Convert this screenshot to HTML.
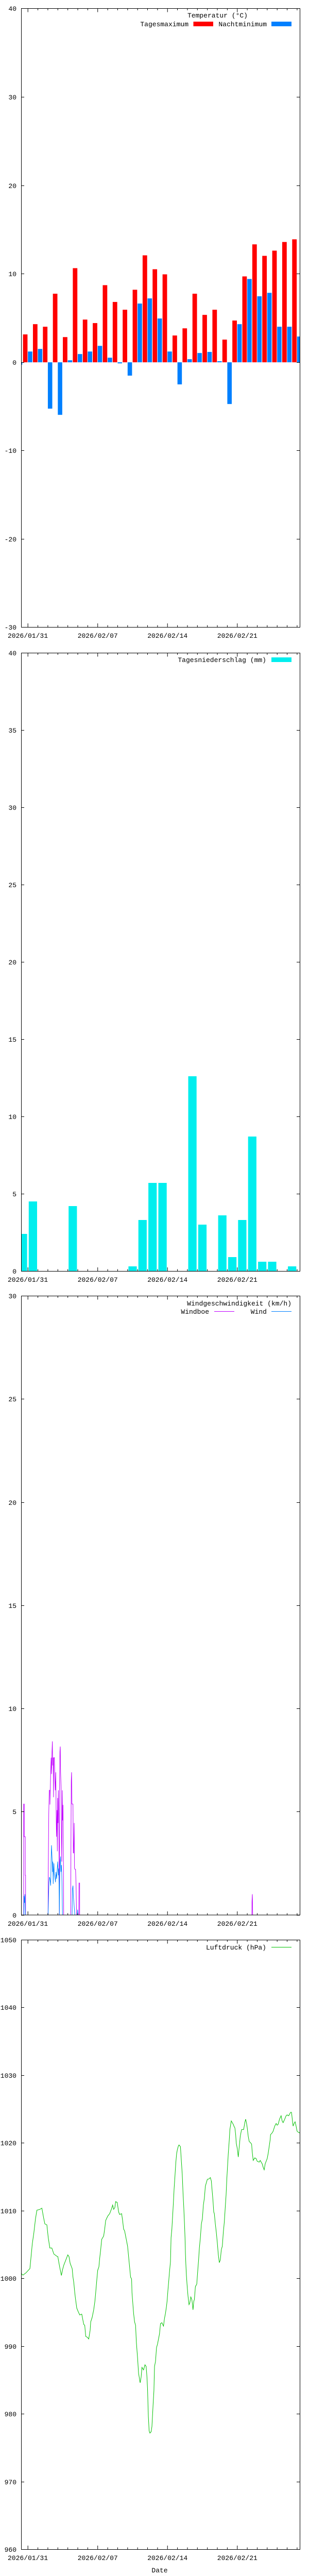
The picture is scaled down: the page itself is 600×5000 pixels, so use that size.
<!DOCTYPE html>
<html><head><meta charset="utf-8"><style>
html,body{margin:0;padding:0;background:#fff;}
svg{display:block;}
text{font-family:"Liberation Mono",monospace;font-size:13px;fill:#000;}
</style></head><body>
<svg width="600" height="5000" viewBox="0 0 600 5000" xmlns="http://www.w3.org/2000/svg">
<defs>
<g id="xtb" stroke="#000" stroke-width="1">
<path d="M54.2 0v-7M73.56 0v-3.5M92.92 0v-3.5M112.28 0v-3.5M131.64 0v-3.5M151 0v-3.5M170.36 0v-3.5M189.72 0v-7M209.08 0v-3.5M228.44 0v-3.5M247.8 0v-3.5M267.16 0v-3.5M286.52 0v-3.5M305.88 0v-3.5M325.24 0v-7M344.6 0v-3.5M363.96 0v-3.5M383.32 0v-3.5M402.68 0v-3.5M422.04 0v-3.5M441.4 0v-3.5M460.76 0v-7M480.12 0v-3.5M499.48 0v-3.5M518.84 0v-3.5M538.2 0v-3.5M557.56 0v-3.5M576.92 0v-3.5"/>
</g>
<g id="xtt" stroke="#000" stroke-width="1">
<path d="M54.2 0v7M73.56 0v3.5M92.92 0v3.5M112.28 0v3.5M131.64 0v3.5M151 0v3.5M170.36 0v3.5M189.72 0v7M209.08 0v3.5M228.44 0v3.5M247.8 0v3.5M267.16 0v3.5M286.52 0v3.5M305.88 0v3.5M325.24 0v7M344.6 0v3.5M363.96 0v3.5M383.32 0v3.5M402.68 0v3.5M422.04 0v3.5M441.4 0v3.5M460.76 0v7M480.12 0v3.5M499.48 0v3.5M518.84 0v3.5M538.2 0v3.5M557.56 0v3.5M576.92 0v3.5"/>
</g>
</defs>

<!-- ============ TEMPERATURE ============ -->
<g fill="#ff0000">
<rect x="44.6" y="649.1" width="8.8" height="54.1"/>
<rect x="63.96" y="629.2" width="8.8" height="74"/>
<rect x="83.32" y="634.2" width="8.8" height="69"/>
<rect x="102.68" y="570.1" width="8.8" height="133.1"/>
<rect x="122.04" y="654.3" width="8.8" height="48.9"/>
<rect x="141.4" y="520.5" width="8.8" height="182.7"/>
<rect x="160.76" y="620.3" width="8.8" height="82.9"/>
<rect x="180.12" y="627.1" width="8.8" height="76.1"/>
<rect x="199.48" y="553.5" width="8.8" height="149.7"/>
<rect x="218.84" y="586.1" width="8.8" height="117.1"/>
<rect x="238.2" y="601.2" width="8.8" height="102"/>
<rect x="257.56" y="562.4" width="8.8" height="140.8"/>
<rect x="276.92" y="495.6" width="8.8" height="207.6"/>
<rect x="296.28" y="522.6" width="8.8" height="180.6"/>
<rect x="315.64" y="532.5" width="8.8" height="170.7"/>
<rect x="335" y="651.2" width="8.8" height="52"/>
<rect x="354.36" y="637.3" width="8.8" height="65.9"/>
<rect x="373.72" y="570.1" width="8.8" height="133.1"/>
<rect x="393.08" y="611.2" width="8.8" height="92"/>
<rect x="412.44" y="601.2" width="8.8" height="102"/>
<rect x="431.8" y="659.2" width="8.8" height="44"/>
<rect x="451.16" y="622.2" width="8.8" height="81"/>
<rect x="470.52" y="536.5" width="8.8" height="166.7"/>
<rect x="489.88" y="474.3" width="8.8" height="228.9"/>
<rect x="509.24" y="496.6" width="8.8" height="206.6"/>
<rect x="528.6" y="486.5" width="8.8" height="216.7"/>
<rect x="547.96" y="469.7" width="8.8" height="233.5"/>
<rect x="567.32" y="464.5" width="8.8" height="238.7"/>
</g>
<g fill="#0080ff">
<rect x="41" y="703.2" width="2.3" height="4.6"/>
<rect x="54.2" y="682.3" width="8.6" height="20.9"/>
<rect x="73.56" y="677.3" width="8.6" height="25.9"/>
<rect x="92.92" y="703.2" width="8.6" height="90"/>
<rect x="112.28" y="703.2" width="8.6" height="102"/>
<rect x="131.64" y="699.3" width="8.6" height="3.9"/>
<rect x="151" y="687.2" width="8.6" height="16"/>
<rect x="170.36" y="682.3" width="8.6" height="20.9"/>
<rect x="189.72" y="671.3" width="8.6" height="31.9"/>
<rect x="209.08" y="694.3" width="8.6" height="8.9"/>
<rect x="228.44" y="703.2" width="8.6" height="2.1"/>
<rect x="247.8" y="703.2" width="8.6" height="25.9"/>
<rect x="267.16" y="589.2" width="8.6" height="114"/>
<rect x="286.52" y="579.2" width="8.6" height="124"/>
<rect x="305.88" y="618.2" width="8.6" height="85"/>
<rect x="325.24" y="682.3" width="8.6" height="20.9"/>
<rect x="344.6" y="703.2" width="8.6" height="42.9"/>
<rect x="363.96" y="697.2" width="8.6" height="6"/>
<rect x="383.32" y="685.2" width="8.6" height="18"/>
<rect x="402.68" y="683.1" width="8.6" height="20.1"/>
<rect x="422.04" y="701.1" width="8.6" height="2.1"/>
<rect x="441.4" y="703.2" width="8.6" height="81"/>
<rect x="460.76" y="629.2" width="8.6" height="74"/>
<rect x="480.12" y="541.5" width="8.6" height="161.7"/>
<rect x="499.48" y="575.1" width="8.6" height="128.1"/>
<rect x="518.84" y="568.4" width="8.6" height="134.8"/>
<rect x="538.2" y="634.2" width="8.6" height="69"/>
<rect x="557.56" y="634.2" width="8.6" height="69"/>
<rect x="576.92" y="653.2" width="5.1" height="50"/>
</g>
<rect x="41.5" y="16.5" width="541" height="1201" fill="none" stroke="#000"/>
<use href="#xtb" transform="translate(0,1217)"/>
<use href="#xtt" transform="translate(0,16.5)"/>
<path stroke="#000" d="M41 16.5h6M576 16.5h6M41 188.5h6M576 188.5h6M41 360.5h6M576 360.5h6M41 531.5h6M576 531.5h6M41 703.5h6M576 703.5h6M41 874.5h6M576 874.5h6M41 1046.5h6M576 1046.5h6M41 1217.5h6M576 1217.5h6"/>
<g text-anchor="end">
<text x="32" y="21">40</text><text x="32" y="193">30</text><text x="32" y="365">20</text><text x="32" y="536">10</text>
<text x="32" y="708">0</text><text x="32" y="879">-10</text><text x="32" y="1051">-20</text><text x="32" y="1222">-30</text>
<text x="481" y="34">Temperatur (°C)</text>
<text x="366" y="51">Tagesmaximum</text>
<text x="518" y="51">Nachtminimum</text>
</g>
<rect x="375.5" y="42" width="38.5" height="9" fill="#ff0000"/>
<rect x="527" y="42" width="39" height="9" fill="#0080ff"/>
<g text-anchor="middle">
<text x="54" y="1238">2026/01/31</text><text x="189.7" y="1238">2026/02/07</text><text x="325.2" y="1238">2026/02/14</text><text x="460.8" y="1238">2026/02/21</text>
</g>

<!-- ============ PRECIPITATION ============ -->
<g fill="#00eeee">
<rect x="41" y="2395" width="11.6" height="72"/>
<rect x="55.8" y="2332" width="16.2" height="135"/>
<rect x="133.2" y="2341" width="16.2" height="126"/>
<rect x="249.4" y="2458" width="16.2" height="9"/>
<rect x="268.7" y="2368" width="16.2" height="99"/>
<rect x="288.1" y="2296" width="16.2" height="171"/>
<rect x="307.5" y="2296" width="16.2" height="171"/>
<rect x="365.5" y="2089" width="16.2" height="378"/>
<rect x="384.9" y="2377" width="16.2" height="90"/>
<rect x="423.6" y="2359" width="16.2" height="108"/>
<rect x="443" y="2440" width="16.2" height="27"/>
<rect x="462.3" y="2368" width="16.2" height="99"/>
<rect x="481.7" y="2206" width="16.2" height="261"/>
<rect x="501.1" y="2449" width="16.2" height="18"/>
<rect x="520.4" y="2449" width="16.2" height="18"/>
<rect x="559.1" y="2458" width="16.2" height="9"/>
</g>
<rect x="41.5" y="1267.5" width="541" height="1200" fill="none" stroke="#000"/>
<use href="#xtb" transform="translate(0,2467)"/>
<use href="#xtt" transform="translate(0,1267.5)"/>
<path stroke="#000" d="M41 1267.5h6M576 1267.5h6M41 1417.5h6M576 1417.5h6M41 1567.5h6M576 1567.5h6M41 1717.5h6M576 1717.5h6M41 1867.5h6M576 1867.5h6M41 2017.5h6M576 2017.5h6M41 2167.5h6M576 2167.5h6M41 2317.5h6M576 2317.5h6M41 2467.5h6M576 2467.5h6"/>
<g text-anchor="end">
<text x="32" y="1272">40</text><text x="32" y="1422">35</text><text x="32" y="1572">30</text><text x="32" y="1722">25</text><text x="32" y="1872">20</text>
<text x="32" y="2022">15</text><text x="32" y="2172">10</text><text x="32" y="2322">5</text><text x="32" y="2472">0</text>
<text x="517" y="1285">Tagesniederschlag (mm)</text>
</g>
<rect x="527" y="1276" width="39" height="9" fill="#00eeee"/>
<g text-anchor="middle">
<text x="54" y="2488">2026/01/31</text><text x="189.7" y="2488">2026/02/07</text><text x="325.2" y="2488">2026/02/14</text><text x="460.8" y="2488">2026/02/21</text>
</g>

<!-- ============ WIND ============ -->
<g transform="translate(0,3400) scale(0.33333)" fill="none" stroke-width="1" vector-effect="non-scaling-stroke">
<polyline vector-effect="non-scaling-stroke" stroke="#c000ff" points="123,951 138,951 138,305 141,305 141,495 147,495 147,720 149,720 149,951 280,951 281,720 284,360 287,225 291,225 291,308 295,130 298,35 300,130 303,0 305,-60 307,80 309,35 311,170 312,265 313,35 317,35 318,80 320,170 322,225 325,120 327,360 329,495 332,340 334,580 336,270 338,415 340,225 342,410 344,600 346,951 347,200 349,0 351,-30 353,120 356,215 358,495 360,640 363,225 365,400 367,310 369,580 371,951 412,951 413,590 415,170 417,120 419,305 425,305 427,590 429,590 432,415 434,680 437,685 440,685 443,770 446,951 459,951 460,765 464,765 464,951 1467,951 1468,870 1470,830 1472,951"/>
<polyline vector-effect="non-scaling-stroke" stroke="#0080ff" points="123,951 139,951 140,840 143,880 145,830 148,951 280,951 285,760 288,730 291,740 295,780 298,620 300,545 302,590 304,630 306,700 308,640 310,770 312,690 314,650 316,710 318,720 320,730 323,760 326,700 330,740 333,690 336,640 338,680 340,720 342,680 344,770 346,951 348,720 350,640 353,610 355,700 358,660 361,760 364,951 420,951 422,800 425,780 428,850 432,900 436,951 450,951 452,920 454,951"/>
</g>
<rect x="41.5" y="2515.5" width="541" height="1201.5" fill="none" stroke="#000"/>
<use href="#xtb" transform="translate(0,3717)"/>
<use href="#xtt" transform="translate(0,2515.5)"/>
<path stroke="#000" d="M41 2515.5h6M576 2515.5h6M41 2715.5h6M576 2715.5h6M41 2916.5h6M576 2916.5h6M41 3116.5h6M576 3116.5h6M41 3316.5h6M576 3316.5h6M41 3516.5h6M576 3516.5h6M41 3717.5h6M576 3717.5h6"/>
<g text-anchor="end">
<text x="32" y="2520">30</text><text x="32" y="2720">25</text><text x="32" y="2921">20</text><text x="32" y="3121">15</text>
<text x="32" y="3321">10</text><text x="32" y="3521">5</text><text x="32" y="3722">0</text>
<text x="566" y="2534">Windgeschwindigkeit (km/h)</text>
<text x="406" y="2550">Windboe</text>
<text x="518" y="2550">Wind</text>
</g>
<path d="M416 2545.5h39" stroke="#c000ff"/>
<path d="M527 2545.5h39" stroke="#0080ff"/>
<g text-anchor="middle">
<text x="54" y="3738">2026/01/31</text><text x="189.7" y="3738">2026/02/07</text><text x="325.2" y="3738">2026/02/14</text><text x="460.8" y="3738">2026/02/21</text>
</g>

<!-- ============ PRESSURE ============ -->
<g transform="translate(0,4100) scale(0.38714,0.33333)">
<polyline vector-effect="non-scaling-stroke" fill="none" stroke="#00c000" stroke-width="1" points="106,938 115,948 130,935 150,910 155,850 162,765 170,700 178,620 185,570 200,565 210,558 218,610 225,650 235,655 242,730 250,790 260,790 270,825 285,838 290,840 296,880 300,905 308,950 314,915 320,890 330,860 340,830 346,840 352,880 362,910 366,960 370,990 375,1050 378,1080 385,1140 392,1160 400,1180 410,1175 420,1235 425,1240 430,1305 438,1310 445,1320 452,1270 455,1220 462,1195 470,1150 476,1100 480,1050 486,970 490,920 496,900 500,850 505,800 510,740 515,730 520,720 525,680 530,630 540,605 550,590 555,575 560,560 565,540 570,565 576,555 580,520 588,525 595,580 600,595 610,590 615,630 620,680 625,690 630,720 635,750 640,780 645,840 650,900 655,960 660,970 662,1050 666,1110 670,1170 675,1220 680,1240 684,1340 690,1430 695,1520 703,1575 708,1540 712,1485 720,1500 727,1470 733,1480 737,1540 740,1610 744,1770 748,1855 752,1868 758,1860 762,1830 768,1700 772,1620 775,1480 780,1450 785,1370 790,1350 795,1320 800,1290 805,1230 812,1225 820,1245 825,1200 830,1170 835,1130 838,1100 842,1040 845,1000 850,930 855,870 858,730 862,680 865,620 870,520 873,450 877,380 882,290 886,240 890,215 895,195 898,190 905,200 910,290 914,360 918,470 922,560 925,640 928,730 930,820 932,880 935,950 938,1000 940,1030 943,1070 948,1120 952,1110 957,1075 962,1090 965,1115 968,1150 972,1100 975,1090 980,1015 987,1000 990,950 992,920 996,860 1000,790 1005,730 1010,650 1015,620 1020,540 1025,500 1030,430 1035,410 1040,390 1048,388 1055,380 1060,400 1062,430 1068,510 1072,580 1075,590 1080,650 1085,700 1090,760 1095,830 1100,875 1105,860 1110,800 1115,780 1120,700 1125,640 1130,550 1134,480 1138,380 1142,300 1145,240 1150,160 1153,100 1160,50 1170,70 1175,85 1178,90 1182,130 1185,180 1190,210 1195,260 1200,200 1205,140 1210,110 1212,100 1222,100 1228,60 1232,40 1236,60 1240,90 1245,140 1250,170 1255,175 1262,185 1265,230 1270,280 1278,265 1285,270 1290,285 1300,290 1305,280 1315,300 1320,320 1325,335 1330,300 1340,270 1345,240 1350,200 1355,160 1357,130 1365,120 1370,110 1378,80 1385,65 1390,75 1395,70 1402,40 1410,20 1415,50 1420,60 1428,40 1435,20 1440,15 1448,20 1455,5 1458,0 1462,0 1466,40 1470,80 1475,65 1480,55 1485,80 1490,110 1495,115 1503,120"/>
</g>
<rect x="41.5" y="3765.5" width="541" height="1183" fill="none" stroke="#000"/>
<use href="#xtb" transform="translate(0,4948)"/>
<use href="#xtt" transform="translate(0,3765.5)"/>
<path stroke="#000" d="M41 3765.5h6M576 3765.5h6M41 3896.5h6M576 3896.5h6M41 4028.5h6M576 4028.5h6M41 4159.5h6M576 4159.5h6M41 4291.5h6M576 4291.5h6M41 4422.5h6M576 4422.5h6M41 4554.5h6M576 4554.5h6M41 4685.5h6M576 4685.5h6M41 4817.5h6M576 4817.5h6M41 4948.5h6M576 4948.5h6"/>
<g text-anchor="end">
<text x="32" y="3770">1050</text><text x="32" y="3901">1040</text><text x="32" y="4033">1030</text><text x="32" y="4164">1020</text><text x="32" y="4296">1010</text>
<text x="32" y="4427">1000</text><text x="32" y="4559">990</text><text x="32" y="4690">980</text><text x="32" y="4822">970</text><text x="32" y="4953">960</text>
<text x="517" y="3784">Luftdruck (hPa)</text>
</g>
<path d="M527 3779.5h39" stroke="#00c000"/>
<g text-anchor="middle">
<text x="54" y="4969">2026/01/31</text><text x="189.7" y="4969">2026/02/07</text><text x="325.2" y="4969">2026/02/14</text><text x="460.8" y="4969">2026/02/21</text>
<text x="310" y="4993">Date</text>
</g>
</svg>
</body></html>
